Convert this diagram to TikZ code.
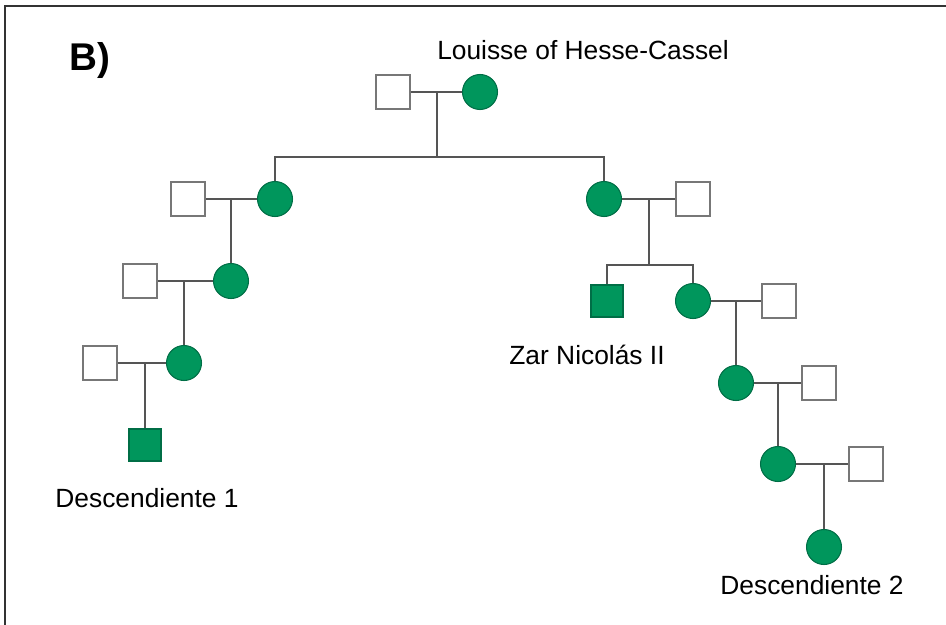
\documentclass[tikz,border=0pt]{standalone}
\usepackage{fontspec}
\setmainfont{Liberation Sans}
\definecolor{carrier}{RGB}{0,150,92}
\definecolor{carrierline}{RGB}{0,110,70}
\definecolor{kinline}{RGB}{85,85,85}
\begin{document}
\begin{tikzpicture}[x=0.02cm, y=-0.02cm,
  male/.style={draw=kinline!80, line width=0.9pt, fill=white, minimum size=0.68cm, inner sep=0pt},
  malex/.style={draw=carrierline, line width=0.6pt, fill=carrier, minimum size=0.64cm, inner sep=0pt},
  female/.style={circle, draw=carrierline, line width=0.6pt, fill=carrier, minimum size=0.70cm, inner sep=0pt},
  kin/.style={draw=kinline, line width=1.1pt},
  lbl/.style={font=\fontsize{15}{18}\selectfont, inner sep=0pt}]

\useasboundingbox (0,0) rectangle (946,625);
\draw[line width=1.4pt, black!80] (5,625) -- (5,6) -- (946,6);

\node[font=\fontsize{22}{26}\bfseries, inner sep=0pt] (tag) at (90,61) {B)};

% ---------- Generation 1 ----------
\node[lbl] (louisename) at (583,50) {Louisse of Hesse-Cassel};
\node[male] (g1m) at (393,92) {};
\node[female] (g1f) at (480,92) {};
\coordinate (g1c) at (437,92);
\coordinate (g1s) at (437,157);
\draw[kin] (g1m) -- (g1f);
\draw[kin] (g1c) -- (g1s);

% ---------- Left branch ----------
\node[male] (l2m) at (188,199) {};
\node[female] (l2f) at (275,199) {};
\coordinate (l2c) at (231,199);
\draw[kin] (l2f.north) |- (g1s);
\draw[kin] (l2m) -- (l2f);

\node[male] (l3m) at (140,281) {};
\node[female] (l3f) at (231,281) {};
\coordinate (l3c) at (184,281);
\draw[kin] (l2c) -- (l3f);
\draw[kin] (l3m) -- (l3f);

\node[male] (l4m) at (100,363) {};
\node[female] (l4f) at (184,363) {};
\coordinate (l4c) at (145,363);
\draw[kin] (l3c) -- (l4f);
\draw[kin] (l4m) -- (l4f);

\node[malex] (desc1) at (145,445) {};
\draw[kin] (l4c) -- (desc1);
\node[lbl] (desc1name) at (147,498) {Descendiente 1};

% ---------- Right branch ----------
\node[female] (r2f) at (604,199) {};
\node[male] (r2m) at (693,199) {};
\coordinate (r2c) at (649,199);
\coordinate (r2s) at (649,265);
\draw[kin] (g1s) -| (r2f.north);
\draw[kin] (r2f) -- (r2m);
\draw[kin] (r2c) -- (r2s);

\node[malex] (zar) at (607,301) {};
\node[lbl] (zarname) at (587,355) {Zar Nicolás II};
\node[female] (r3f) at (693,301) {};
\node[male] (r3m) at (779,301) {};
\coordinate (r3c) at (736,301);
\draw[kin] (zar.north) |- (r2s) -| (r3f.north);
\draw[kin] (r3f) -- (r3m);

\node[female] (r4f) at (736,383) {};
\node[male] (r4m) at (819,383) {};
\coordinate (r4c) at (778,383);
\draw[kin] (r3c) -- (r4f);
\draw[kin] (r4f) -- (r4m);

\node[female] (r5f) at (778,464) {};
\node[male] (r5m) at (866,464) {};
\coordinate (r5c) at (824,464);
\draw[kin] (r4c) -- (r5f);
\draw[kin] (r5f) -- (r5m);

\node[female] (desc2) at (824,547) {};
\draw[kin] (r5c) -- (desc2);
\node[lbl] (desc2name) at (812,585) {Descendiente 2};

\end{tikzpicture}
\end{document}
